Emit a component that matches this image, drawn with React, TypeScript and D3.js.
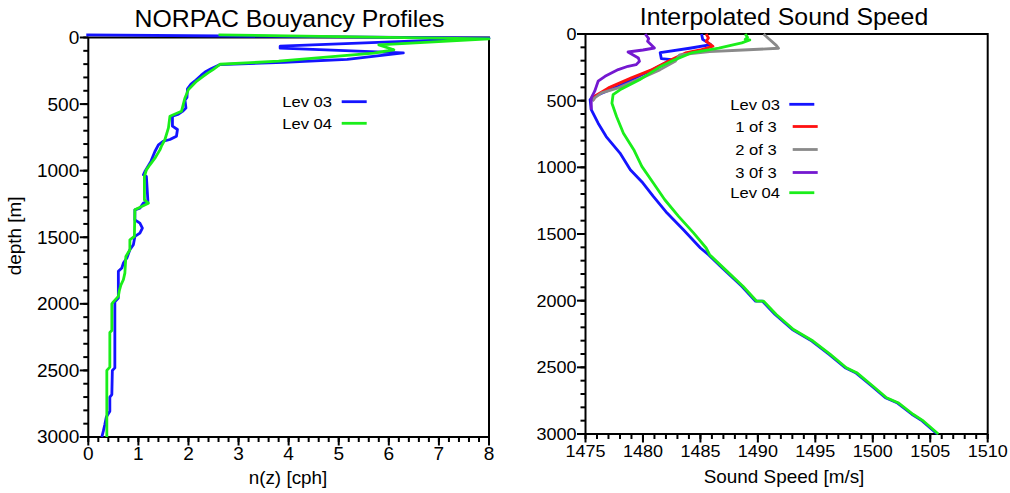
import React from "react";
import * as d3 from "d3";

// ---------- Buoyancy frequency profiles: [n (cph), depth (m)] ----------
const lev03Buoyancy: [number, number][] = [
  [-0.04, -20], [8.0, 5], [3.83, 65], [3.83, 80], [6.29, 116], [5.17, 164], [3.9, 186],
  [2.63, 203], [2.45, 235], [2.35, 255], [2.25, 285], [2.15, 320], [2.05, 350], [1.98, 385],
  [1.97, 450], [1.93, 470], [1.95, 530], [1.88, 555], [1.8, 575], [1.68, 591], [1.68, 666],
  [1.78, 691], [1.76, 741], [1.63, 766], [1.5, 779], [1.4, 806], [1.33, 856], [1.25, 930],
  [1.13, 1006], [1.1, 1031], [1.16, 1044], [1.19, 1231], [1.1, 1244], [1.03, 1281],
  [0.93, 1294], [0.93, 1369], [1.03, 1394], [1.08, 1431], [1.03, 1469], [0.93, 1494],
  [0.9, 1556], [0.83, 1594], [0.77, 1656], [0.7, 1694], [0.67, 1731], [0.6, 1756],
  [0.6, 1956], [0.53, 1985], [0.53, 2481], [0.48, 2500], [0.47, 2681], [0.43, 2700],
  [0.43, 2806], [0.36, 2850], [0.33, 2906], [0.3, 2956], [0.27, 3000],
];

const lev04Buoyancy: [number, number][] = [
  [2.6, -20], [8.0, 10], [5.8, 55], [6.1, 92], [5.7, 118], [3.8, 178], [2.63, 201],
  [2.49, 241], [2.39, 266], [2.3, 290], [2.16, 329], [2.0, 391], [1.93, 454], [1.86, 554],
  [1.63, 591], [1.6, 679], [1.53, 766], [1.46, 816], [1.43, 844], [1.33, 906], [1.23, 956],
  [1.16, 994], [1.12, 1044], [1.12, 1219], [1.2, 1244], [0.93, 1294], [0.92, 1494],
  [0.83, 1519], [0.83, 1594], [0.75, 1644], [0.73, 1769], [0.7, 1819], [0.65, 1860],
  [0.62, 1900], [0.6, 1944], [0.5, 1985], [0.47, 2000], [0.47, 2200], [0.43, 2215],
  [0.43, 2475], [0.37, 2500], [0.37, 3000],
];

// ---------- Sound speed profiles: [c (m/s), depth (m)] ----------
const lev03Speed: [number, number][] = [
  [1485.1, 0], [1485.2, 40], [1485.9, 80], [1484.2, 105], [1481.5, 140], [1481.6, 185],
  [1482.5, 192], [1481.0, 260], [1479.9, 305], [1477.85, 392], [1475.8, 467], [1475.4, 492],
  [1475.5, 567], [1476.1, 669], [1476.8, 769], [1478.0, 893], [1478.9, 1018], [1480.0, 1118],
  [1480.9, 1218], [1482.1, 1343], [1483.5, 1467], [1485.0, 1605], [1485.7, 1655],
  [1486.9, 1754], [1488.6, 1892], [1489.8, 2004], [1490.4, 2004], [1491.5, 2104],
  [1493.0, 2216], [1494.7, 2303], [1496.2, 2403], [1497.6, 2503], [1498.5, 2540],
  [1499.9, 2640], [1501.1, 2728], [1502.1, 2765], [1503.4, 2852], [1504.3, 2902],
  [1505.6, 3000],
];

const oneOf3Speed: [number, number][] = [
  [1485.5, 0], [1485.7, 30], [1485.5, 55], [1486.1, 92], [1485.1, 117], [1483.7, 142],
  [1482.5, 192], [1480.8, 267], [1479.0, 329], [1477.0, 404], [1475.8, 467], [1475.7, 495],
];

const twoOf3Speed: [number, number][] = [
  [1490.5, 0], [1490.9, 32], [1491.6, 85], [1491.8, 107], [1488.7, 120], [1485.8, 132],
  [1483.2, 157], [1482.8, 205], [1481.5, 267], [1479.9, 329], [1477.85, 404], [1476.4, 442],
  [1475.8, 479], [1475.6, 505],
];

const threeOf3Speed: [number, number][] = [
  [1480.2, 0], [1480.5, 35], [1480.4, 55], [1481.0, 105], [1480.0, 120], [1478.7, 135],
  [1479.6, 180], [1479.7, 205], [1479.4, 230], [1478.7, 242], [1477.85, 267], [1476.7, 317],
  [1476.1, 354], [1475.8, 429], [1475.5, 479], [1475.5, 569],
];

const lev04Speed: [number, number][] = [
  [1488.9, 0], [1489.1, 25], [1488.9, 40], [1489.3, 45], [1488.6, 67], [1486.6, 106],
  [1484.2, 142], [1482.8, 192], [1481.5, 245], [1479.7, 344], [1478.0, 419], [1477.4, 455],
  [1477.3, 519], [1477.7, 619], [1478.3, 744], [1479.2, 868], [1479.9, 993], [1480.9, 1118],
  [1481.9, 1243], [1483.1, 1368], [1484.4, 1492], [1485.5, 1605], [1485.8, 1655],
  [1487.0, 1754], [1488.7, 1892], [1489.9, 2004], [1490.5, 2004], [1491.6, 2104],
  [1493.1, 2216], [1494.8, 2303], [1496.3, 2403], [1497.7, 2503], [1498.6, 2540],
  [1500.0, 2640], [1501.2, 2728], [1502.2, 2765], [1503.5, 2852], [1504.4, 2902],
  [1505.7, 3000],
];

// ---------- Axis ticks ----------
const depthMajorTicks = [0, 500, 1000, 1500, 2000, 2500, 3000];
const depthMinorTicks = d3.range(0, 3001, 100);
const buoyMajorTicks = [0, 1, 2, 3, 4, 5, 6, 7, 8];
const buoyMinorTicks = d3.range(0, 8.001, 0.2);
const speedMajorTicks = [1475, 1480, 1485, 1490, 1495, 1500, 1505, 1510];
const speedMinorTicks = d3.range(1475, 1510.001, 1);

const BLUE = "#1414ff";
const GREEN = "#1aee1a";
const RED = "#ff1010";
const GRAY = "#8a8a8a";
const PURPLE = "#7418d0";
const FONT = "'Liberation Sans', Arial, Helvetica, sans-serif";

type TextProps = {
  x: number;
  y: number;
  size: number;
  anchor?: "start" | "middle" | "end";
  sx?: number;
  rotate?: number;
  children: React.ReactNode;
};

function Label({ x, y, size, anchor = "middle", sx = 1.08, rotate = 0, children }: TextProps) {
  return (
    <g transform={`translate(${x},${y}) rotate(${rotate}) scale(${sx},1)`}>
      <text fontFamily={FONT} fontSize={size} textAnchor={anchor} fill="#000">
        {children}
      </text>
    </g>
  );
}

type PanelProps = {
  x: d3.ScaleLinear<number, number>;
  y: d3.ScaleLinear<number, number>;
  xMajor: number[];
  xMinor: number[];
  xFormat: (v: number) => string;
  tickSize: number;
};

function Frame({ x, y, xMajor, xMinor, xFormat, tickSize }: PanelProps) {
  const [x0, x1] = x.range();
  const [y0, y1] = y.range();
  return (
    <g>
      {depthMinorTicks.map((d) => (
        <line key={`ym${d}`} x1={x0 - 5} x2={x0} y1={y(d)} y2={y(d)} stroke="#000" strokeWidth={2} />
      ))}
      {depthMajorTicks.map((d) => (
        <g key={`yM${d}`}>
          <line x1={x0 - 8.5} x2={x0} y1={y(d)} y2={y(d)} stroke="#000" strokeWidth={2} />
          <Label x={x0 - 9} y={y(d) + tickSize * 0.36} size={tickSize} anchor="end" sx={1.06}>
            {d}
          </Label>
        </g>
      ))}
      {xMinor.map((v) => (
        <line key={`xm${v}`} x1={x(v)} x2={x(v)} y1={y1} y2={y1 + 5} stroke="#000" strokeWidth={2} />
      ))}
      {xMajor.map((v) => (
        <g key={`xM${v}`}>
          <line x1={x(v)} x2={x(v)} y1={y1} y2={y1 + 8.5} stroke="#000" strokeWidth={2} />
          <Label x={x(v)} y={y1 + 23} size={tickSize} sx={1.06}>
            {xFormat(v)}
          </Label>
        </g>
      ))}
      <rect x={x0} y={y0} width={x1 - x0} height={y1 - y0} fill="none" stroke="#000" strokeWidth={2} />
    </g>
  );
}

function Profile({ data, x, y, color }: { data: [number, number][]; x: any; y: any; color: string }) {
  const path = d3
    .line<[number, number]>()
    .x((p) => x(p[0]))
    .y((p) => y(p[1]))(data);
  return <path d={path ?? ""} fill="none" stroke={color} strokeWidth={2.8} strokeLinejoin="round" />;
}

function LegendRow({ x, y, label, color, textX, lineX }: { x: number; y: number; label: string; color: string; textX: number; lineX: number }) {
  return (
    <g>
      <Label x={x + textX} y={y + 5.5} size={15.5} anchor="end" sx={1.07}>
        {label}
      </Label>
      <line x1={x + lineX} x2={x + lineX + 25} y1={y} y2={y} stroke={color} strokeWidth={2.8} />
    </g>
  );
}

export default function App() {
  const xb = d3.scaleLinear().domain([0, 8]).range([88.3, 489]);
  const yb = d3.scaleLinear().domain([0, 3000]).range([37.5, 437]);
  const xs = d3.scaleLinear().domain([1475, 1510]).range([585.5, 987.7]);
  const ys = d3.scaleLinear().domain([0, 3000]).range([34, 434]);

  return (
    <svg width={1010} height={493} style={{ display: "block", position: "absolute", left: 0, top: 0 }}>
      <rect width={1010} height={493} fill="#fff" />

      {/* Left panel: buoyancy frequency */}
      <Label x={289.5} y={27} size={23}>NORPAC Bouyancy Profiles</Label>
      <Frame x={xb} y={yb} xMajor={buoyMajorTicks} xMinor={buoyMinorTicks} xFormat={(v) => String(v)} tickSize={18} />
      <Profile data={lev03Buoyancy} x={xb} y={yb} color={BLUE} />
      <Profile data={lev04Buoyancy} x={xb} y={yb} color={GREEN} />
      <LegendRow x={0} y={101.7} label="Lev 03" color={BLUE} textX={332} lineX={341.7} />
      <LegendRow x={0} y={123.3} label="Lev 04" color={GREEN} textX={332} lineX={341.7} />
      <Label x={288} y={484} size={17.5}>n(z) [cph]</Label>
      <Label x={21} y={236} size={17.5} rotate={-90}>depth [m]</Label>

      {/* Right panel: sound speed */}
      <Label x={784} y={25} size={23}>Interpolated Sound Speed</Label>
      <Frame x={xs} y={ys} xMajor={speedMajorTicks} xMinor={speedMinorTicks} xFormat={(v) => String(v)} tickSize={17} />
      <Profile data={lev03Speed} x={xs} y={ys} color={BLUE} />
      <Profile data={oneOf3Speed} x={xs} y={ys} color={RED} />
      <Profile data={twoOf3Speed} x={xs} y={ys} color={GRAY} />
      <Profile data={threeOf3Speed} x={xs} y={ys} color={PURPLE} />
      <Profile data={lev04Speed} x={xs} y={ys} color={GREEN} />
      <LegendRow x={0} y={104.3} label="Lev 03" color={BLUE} textX={780} lineX={789.3} />
      <LegendRow x={0} y={126.5} label="1 of 3" color={RED} textX={776.7} lineX={792.7} />
      <LegendRow x={0} y={149.5} label="2 of 3" color={GRAY} textX={776.7} lineX={792.7} />
      <LegendRow x={0} y={172.5} label="3 0f 3" color={PURPLE} textX={776.7} lineX={792.7} />
      <LegendRow x={0} y={192.7} label="Lev 04" color={GREEN} textX={780} lineX={789.3} />
      <Label x={784} y={483} size={17.5}>Sound Speed [m/s]</Label>
    </svg>
  );
}
